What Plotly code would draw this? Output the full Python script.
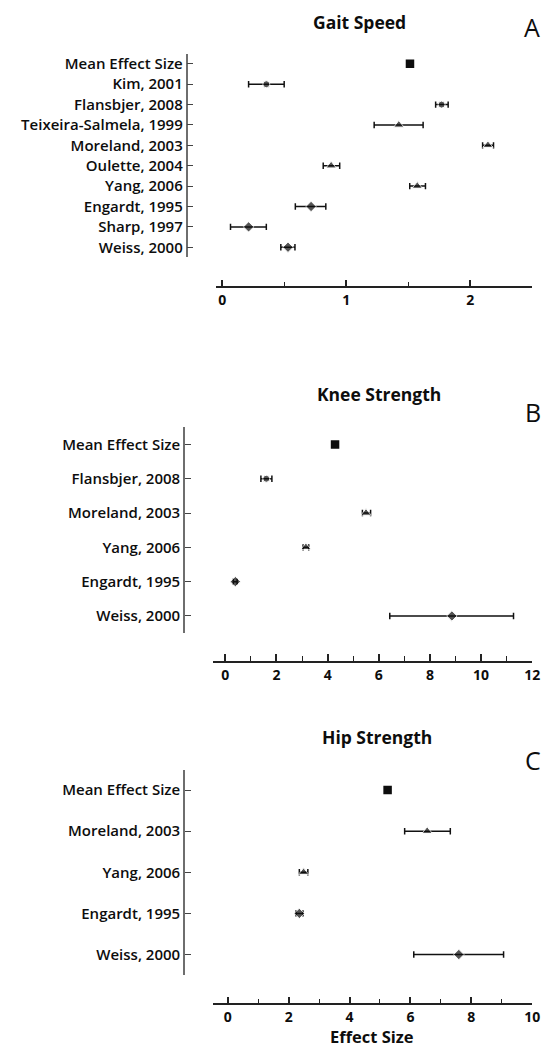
import plotly.graph_objects as go

W, H = 553, 1049

# ---------------- data ----------------
mean_label = "Mean Effect Size"

gait_studies = ["Kim, 2001", "Flansbjer, 2008", "Teixeira-Salmela, 1999", "Moreland, 2003",
                "Oulette, 2004", "Yang, 2006", "Engardt, 1995", "Sharp, 1997", "Weiss, 2000"]
gait_es = [0.355, 1.769, 1.424, 2.143, 0.878, 1.573, 0.716, 0.212, 0.530]
gait_lo = [0.212, 1.721, 1.225, 2.100, 0.814, 1.512, 0.589, 0.066, 0.472]
gait_hi = [0.499, 1.822, 1.620, 2.188, 0.947, 1.639, 0.835, 0.355, 0.586]
gait_mean = 1.514

knee_studies = ["Flansbjer, 2008", "Moreland, 2003", "Yang, 2006", "Engardt, 1995", "Weiss, 2000"]
knee_es = [1.60, 5.50, 3.15, 0.39, 8.86]
knee_lo = [1.39, 5.36, 3.04, 0.31, 6.43]
knee_hi = [1.82, 5.68, 3.26, 0.46, 11.27]
knee_mean = 4.29

hip_studies = ["Moreland, 2003", "Yang, 2006", "Engardt, 1995", "Weiss, 2000"]
hip_es = [6.55, 2.49, 2.35, 7.59]
hip_lo = [5.81, 2.35, 2.24, 6.11]
hip_hi = [7.31, 2.63, 2.47, 9.06]
hip_mean = 5.25

panel_titles = ["Gait Speed", "Knee Strength", "Hip Strength"]
panel_letters = ["A", "B", "C"]
x_title = "Effect Size"

# ---------------- style ----------------
symbol_by_author = {
    "Kim": "circle", "Flansbjer": "circle",
    "Teixeira-Salmela": "triangle-up", "Moreland": "triangle-up",
    "Oulette": "triangle-up", "Yang": "triangle-up",
    "Engardt": "diamond", "Sharp": "diamond", "Weiss": "diamond",
}
size_by_symbol = {"circle": 7, "triangle-up": 9, "diamond": 8}
FONT = "Open Sans"
INK = "#0d0d0d"

panels_px = [
    dict(xd=(219.3, 540.0), yd=(52.7, 256.7), yline=189.3, xline=286.7, xr=(-0.05, 2.5), dt=1, mdt=0.5,
         title_xy=(365, 21), letter_xy=(540, 26)),
    dict(xd=(215.7, 540.0), yd=(426.7, 632.7), yline=186.7, xline=661.7, xr=(-0.5, 12), dt=2, mdt=1,
         title_xy=(385, 393), letter_xy=(541, 411)),
    dict(xd=(215.7, 540.0), yd=(769.3, 975.0), yline=186.7, xline=1004.3, xr=(-0.5, 10), dt=2, mdt=1,
         title_xy=(383, 737), letter_xy=(541, 760)),
]

datasets = [
    (gait_studies, gait_es, gait_lo, gait_hi, gait_mean),
    (knee_studies, knee_es, knee_lo, knee_hi, knee_mean),
    (hip_studies, hip_es, hip_lo, hip_hi, hip_mean),
]

fig = go.Figure()
annotations = []
layout_axes = {}


def fx(px):
    return px / W


def fy(py):
    return 1 - py / H


for i, (p, (studies, es, lo, hi, mean_val)) in enumerate(zip(panels_px, datasets)):
    n = i + 1
    xa = "x" if n == 1 else f"x{n}"
    ya = "y" if n == 1 else f"y{n}"
    xkey = "xaxis" if n == 1 else f"xaxis{n}"
    ykey = "yaxis" if n == 1 else f"yaxis{n}"
    cats = [mean_label] + studies

    fig.add_trace(go.Scatter(
        x=[mean_val], y=[mean_label], xaxis=xa, yaxis=ya, mode="markers",
        marker=dict(symbol="square", size=8.5, color=INK), showlegend=False, hoverinfo="x+y"))

    syms = [symbol_by_author[s.split(",")[0]] for s in studies]
    sizes = [size_by_symbol[s] for s in syms]
    fig.add_trace(go.Scatter(
        x=es, y=studies, xaxis=xa, yaxis=ya, mode="markers",
        marker=dict(symbol=syms, size=sizes, color=INK),
        error_x=dict(type="data", symmetric=False,
                     array=[h - e for h, e in zip(hi, es)],
                     arrayminus=[e - l for e, l in zip(es, lo)],
                     color="#111111", thickness=1.5, width=3.2),
        showlegend=False, hoverinfo="x+y"))

    layout_axes[xkey] = dict(
        domain=[fx(p["xd"][0]), fx(p["xd"][1])],
        range=list(p["xr"]), anchor="free", position=fy(p["xline"]),
        showline=True, linecolor="#222222", linewidth=1.6,
        showgrid=False, zeroline=False,
        ticks="inside", ticklen=7, tickwidth=1.5, tickcolor="#222222",
        tick0=0, dtick=p["dt"],
        minor=dict(ticks="inside", ticklen=5, tickwidth=1.2, tickcolor="#222222",
                   tick0=0, dtick=p["mdt"], showgrid=False),
        tickfont=dict(family=FONT, size=14, color=INK, weight="bold"),
        fixedrange=True,
    )
    layout_axes[ykey] = dict(
        domain=[fy(p["yd"][1]), fy(p["yd"][0])],
        type="category", categoryorder="array", categoryarray=cats,
        range=[len(cats) - 0.5, -0.5],
        anchor="free", position=fx(p["yline"]),
        showline=True, linecolor="#6e6e6e", linewidth=1.6,
        showgrid=False, zeroline=False,
        ticks="inside", ticklen=6, tickwidth=1, tickcolor="#444444",
        tickfont=dict(family=FONT, size=15, color=INK, weight=600),
        fixedrange=True,
    )

    tx, ty = p["title_xy"]
    annotations.append(dict(text=panel_titles[i], x=fx(tx), y=fy(ty), xref="paper", yref="paper",
                            xanchor="center", yanchor="middle", showarrow=False,
                            font=dict(family=FONT, size=17.5, color=INK, weight="bold")))
    lx, ly = p["letter_xy"]
    annotations.append(dict(text=panel_letters[i], x=fx(lx), y=fy(ly), xref="paper", yref="paper",
                            xanchor="center", yanchor="middle", showarrow=False,
                            font=dict(family=FONT, size=25, color=INK, weight=400)))

annotations.append(dict(text=x_title, x=fx(377), y=fy(1036), xref="paper", yref="paper",
                        xanchor="center", yanchor="middle", showarrow=False,
                        font=dict(family=FONT, size=16.5, color=INK, weight="bold")))

fig.update_layout(
    width=W, height=H, autosize=False,
    margin=dict(l=0, r=0, t=0, b=0),
    paper_bgcolor="white", plot_bgcolor="white",
    showlegend=False, annotations=annotations,
    **layout_axes,
)

fig.write_html("out.html",
               config={"displayModeBar": False},
               post_script="document.body.style.margin='0';document.body.style.overflow='hidden';")
